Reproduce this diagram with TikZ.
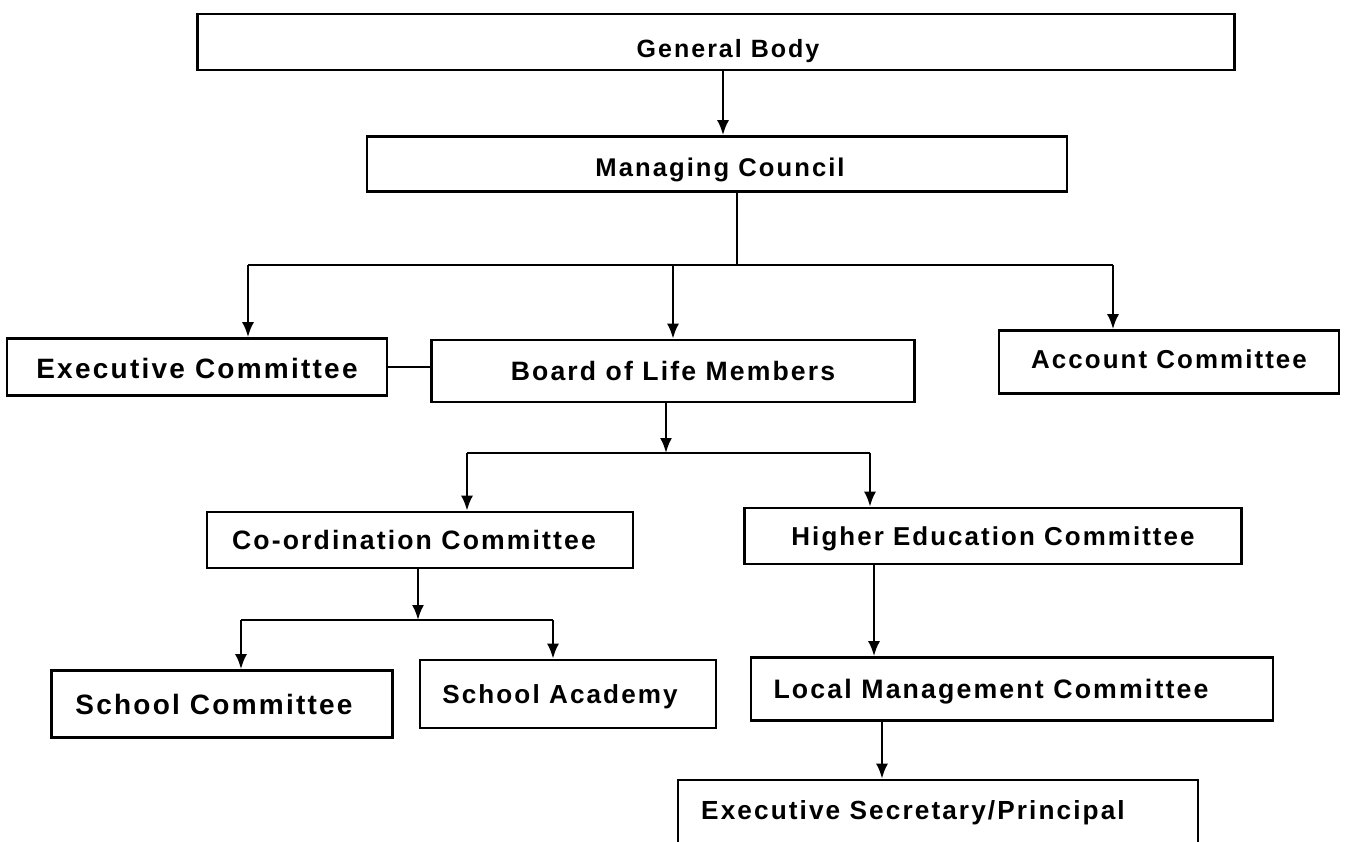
\documentclass[tikz,border=0pt]{standalone}
\usepackage{fontspec}
\usetikzlibrary{arrows.meta}
\newfontfamily\chartfont{Liberation Sans}[LetterSpace=8]
\newcommand{\fs}[1]{\chartfont\bfseries\fontsize{#1}{#1}\selectfont}
\tikzset{
  box/.style={draw, line width=2.6pt, inner sep=0pt, rectangle, anchor=center},
  txt/.style={inner sep=0pt, text depth=0pt},
  conn/.style={line width=2.4pt},
  arr/.style={line width=2.4pt, -{Latex[length=15pt,width=12pt]}}
}
\begin{document}
\begin{tikzpicture}[x=1pt,y=-1pt]
\clip (0,0) rectangle (1347,841);
\fill[white] (0,0) rectangle (1347,841);
% boxes
\node[box, minimum width=1037pt, minimum height=56pt,
  label={[txt, font=\fs{25}, xshift=12pt, yshift=-6pt]center:General Body}] (gb) at (716,42) {};
\node[box, minimum width=700pt, minimum height=55pt,
  label={[txt, font=\fs{25.6}, xshift=3pt, yshift=-3pt]center:Managing Council}] (mc) at (717,164) {};
\node[box, minimum width=380pt, minimum height=57pt,
  label={[txt, font=\fs{28}, yshift=-1pt]center:Executive Committee}] (ec) at (197,367) {};
\node[box, minimum width=483pt, minimum height=62pt,
  label={[txt, font=\fs{26.6}]center:Board of Life Members}] (blm) at (673,371) {};
\node[box, minimum width=340pt, minimum height=63pt,
  label={[txt, font=\fs{25.9}, yshift=3pt]center:Account Committee}] (ac) at (1169,362) {};
\node[box, minimum width=426pt, minimum height=56pt,
  label={[txt, font=\fs{26.6}, xshift=-6pt]center:Co-ordination Committee}] (cc) at (420,540) {};
\node[box, minimum width=497pt, minimum height=56pt,
  label={[txt, font=\fs{25.9}]center:Higher Education Committee}] (hec) at (993,536) {};
\node[box, minimum width=341pt, minimum height=67pt,
  label={[txt, font=\fs{28}, xshift=-8pt]center:School Committee}] (sc) at (222,704) {};
\node[box, minimum width=296pt, minimum height=68pt,
  label={[txt, font=\fs{26.1}, xshift=-8pt]center:School Academy}] (sa) at (568,694) {};
\node[box, minimum width=522pt, minimum height=63pt,
  label={[txt, font=\fs{26.7}, xshift=-21pt]center:Local Management Committee}] (lmc) at (1012,689) {};
\node[box, minimum width=520pt, minimum height=70pt,
  label={[txt, font=\fs{26.2}, xshift=-25pt, yshift=5pt]center:Executive Secretary/Principal}] (esp) at (938,815) {};
% connectors
\coordinate (a0) at (723,0);
\draw[arr] (gb.south -| a0) -- (a0 |- mc.north);
\coordinate (j1) at (737,265);
\coordinate (t1) at (248,265);
\coordinate (t2) at (673,265);
\coordinate (t3) at (1113,265);
\draw[conn] (mc.south -| j1) -- (j1);
\draw[conn] (t1) -- (t3);
\draw[arr] (t1) -- (t1 |- ec.north);
\draw[arr] (t2) -- (t2 |- blm.north);
\draw[arr] (t3) -- (t3 |- ac.north);
\draw[conn] (ec.east) -- (ec.east -| blm.west);
\coordinate (j2) at (666,453);
\coordinate (t4) at (467,453);
\coordinate (t5) at (870,453);
\draw[arr] (blm.south -| j2) -- (j2);
\draw[conn] (t4) -- (t5);
\draw[arr] (t4) -- (t4 |- cc.north);
\draw[arr] (t5) -- (t5 |- hec.north);
\coordinate (j3) at (418,620);
\coordinate (t6) at (241,620);
\coordinate (t7) at (553,620);
\draw[arr] (cc.south -| j3) -- (j3);
\draw[conn] (t6) -- (t7);
\draw[arr] (t6) -- (t6 |- sc.north);
\draw[arr] (t7) -- (t7 |- sa.north);
\coordinate (a1) at (874,0);
\draw[arr] (hec.south -| a1) -- (a1 |- lmc.north);
\coordinate (a2) at (882,0);
\draw[arr] (lmc.south -| a2) -- (a2 |- esp.north);
\end{tikzpicture}
\end{document}
